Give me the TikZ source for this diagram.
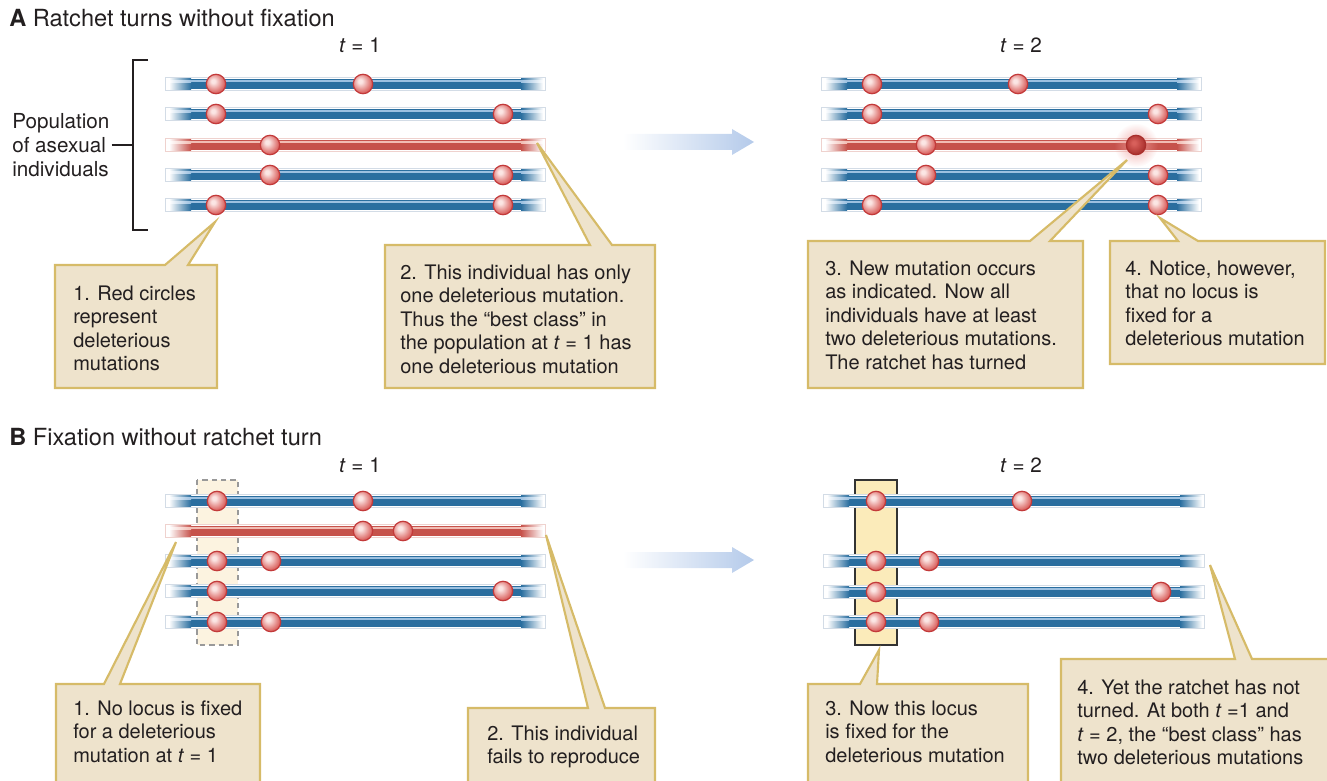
\documentclass[tikz,border=0pt]{standalone}
\usepackage{fontspec}
\setmainfont{TeX Gyre Heros}
\usetikzlibrary{fadings}

\definecolor{txt}{HTML}{231F20}
\definecolor{blubody}{HTML}{2A6E9F}
\definecolor{bluhi}{HTML}{9CC0E0}
\definecolor{bluedge}{HTML}{D3DCE6}
\definecolor{redbody}{HTML}{C6524B}
\definecolor{redhi}{HTML}{F1BDB4}
\definecolor{rededge}{HTML}{EFD2CE}
\definecolor{mutin}{HTML}{FBE6E4}
\definecolor{mutout}{HTML}{DA625F}
\definecolor{mutedge}{HTML}{C33A3A}
\definecolor{dkin}{HTML}{D8605B}
\definecolor{dkout}{HTML}{A92F2C}
\definecolor{glowc}{HTML}{EE9C99}
\definecolor{calfill}{HTML}{EEE3CC}
\definecolor{caledge}{HTML}{D6BB68}
\definecolor{arrowc}{HTML}{B4CAEA}
\definecolor{locusA}{HTML}{FCF3E0}
\definecolor{locusB}{HTML}{FBEBBA}

% shaded bead for a mutation
\pgfdeclareradialshading{mutball}{\pgfqpoint{-8bp}{8bp}}{%
  color(0bp)=(mutin); color(5bp)=(mutin); color(27bp)=(mutout);
  color(40bp)=(mutout!85!black); color(60bp)=(mutout!85!black)}
\pgfdeclareradialshading{darkball}{\pgfqpoint{-6bp}{6bp}}{%
  color(0bp)=(dkin); color(4bp)=(dkin); color(28bp)=(dkout); color(60bp)=(dkout)}
\tikzfading[name=glowfade, inner color=transparent!15, outer color=transparent!100]

% chromosome: #1 = left x, #2 = right x, #3 = y, #4 = colour prefix (blu/red)
\newcommand\chrom[4]{%
  \draw[draw=#4edge, fill=white, line width=0.4pt] (#1,#3-6.5) rectangle (#2,#3+6.5);
  \fill[#4body] (#1+26,#3-5.2) rectangle (#2-24,#3+5.2);
  \shade[left color=white, right color=#4body] (#1+4,#3-5.2) rectangle (#1+26,#3+5.2);
  \shade[left color=#4body, right color=white] (#2-24,#3-5.2) rectangle (#2-2,#3+5.2);
  \fill[#4hi] (#1+26,#3-3.6) rectangle (#2-24,#3-1.6);
  \shade[left color=white, right color=#4hi] (#1+4,#3-3.6) rectangle (#1+26,#3-1.6);
  \shade[left color=#4hi, right color=white] (#2-24,#3-3.6) rectangle (#2-2,#3-1.6);
}
% mutation bead
\newcommand\mut[2]{\shade[shading=mutball, draw=mutedge, line width=0.9pt] (#1,#2) circle[radius=9.7];}
% callout: box #1,#2 to #3,#4; pointer base #5..#6 on top edge; tip #7
\newcommand\callout[7]{%
  \filldraw[callbox] (#1,#2) -- (#5,#2) -- #7 -- (#6,#2) -- (#3,#2) -- (#3,#4) -- (#1,#4) -- cycle;}
% broad progression arrow with its left end at #1,#2
\newcommand\flowarrow[2]{%
  \shade[left color=white, right color=arrowc] (#1,#2-8) -- (#1+109,#2-8) -- (#1+109,#2-13)
    -- (#1+131,#2) -- (#1+109,#2+13) -- (#1+109,#2+8) -- (#1,#2+8) -- cycle;}

\tikzset{
  callbox/.style={fill=calfill, draw=caledge, line width=1.6pt, line join=miter},
  note/.style={font=\fontsize{15}{17.6}\selectfont, align=left, inner sep=0pt,
    anchor=north west, text=txt},
  heading/.style={font=\fontsize{17.7}{20}\selectfont, inner sep=0pt, anchor=west, text=txt},
  timelbl/.style={font=\fontsize{15.5}{18}\selectfont, inner sep=0pt, text=txt},
  poplbl/.style={font=\fontsize{15.5}{18}\selectfont, align=left, inner sep=0pt,
    anchor=west, text=txt},
  brk/.style={draw=txt, line width=0.8pt},
}

\begin{document}
\begin{tikzpicture}[x=0.75pt,y=-0.75pt]
\useasboundingbox (0,0) rectangle (1327,781);

% ---------------- panel A ----------------
\node[heading] (headA) at (9,18) {\textbf{A} Ratchet turns without fixation};
\node[timelbl] (tA1) at (360,45) {\textit{t} = 1};
\node[timelbl] (tA2) at (1021,45) {\textit{t} = 2};

\node[poplbl] (pop) at (12,145) {Population\\of asexual\\individuals};
\coordinate (brkmid) at (133,145);
\draw[brk] (148,60) -- (133,60) -- (133,230) -- (148,230);
\draw[brk] ([xshift=1.5]pop.east |- brkmid) -- (brkmid);

% population at t = 1
\chrom{165}{545}{84}{blu}
\chrom{165}{545}{114}{blu}
\chrom{165}{545}{145}{red}
\chrom{165}{545}{175}{blu}
\chrom{165}{545}{205}{blu}
\mut{216}{84}\mut{363}{84}
\mut{216}{114}\mut{503}{114}
\mut{270}{145}
\mut{270}{175}\mut{503}{175}
\mut{216}{205}\mut{503}{205}

\flowarrow{623}{142}

% population at t = 2
\chrom{821}{1201}{84}{blu}
\chrom{821}{1201}{114}{blu}
\chrom{821}{1201}{145}{red}
\chrom{821}{1201}{175}{blu}
\chrom{821}{1201}{205}{blu}
\mut{872}{84}\mut{1018}{84}
\mut{872}{114}\mut{1158}{114}
\mut{926}{145}
\fill[glowc, path fading=glowfade] (1136,145) circle[radius=22];
\shade[shading=darkball, draw=dkout, line width=0.9pt] (1136,145) circle[radius=9.7];
\mut{926}{175}\mut{1158}{175}
\mut{872}{205}\mut{1158}{205}

\callout{55}{265}{217}{388}{165}{188}{(215,222)}
\node[note] (nA1) at (73,285.5) {1. Red circles\\represent\\deleterious\\mutations};
\callout{385}{245}{655}{388}{590}{612}{(537,143)}
\node[note] (nA2) at (400,264.5) {2. This individual has only\\one deleterious mutation.\\Thus the “best class” in\\the population at \textit{t} = 1 has\\one deleterious mutation};
\callout{808}{241}{1083}{388}{1030}{1050}{(1127,160)}
\node[note] (nA3) at (825,260.5) {3. New mutation occurs\\as indicated. Now all\\individuals have at least\\two deleterious mutations.\\The ratchet has turned};
\callout{1110}{241}{1325}{364}{1178}{1198}{(1160,218)}
\node[note] (nA4) at (1125,260.5) {4. Notice, however,\\that no locus is\\fixed for a\\deleterious mutation};

% ---------------- panel B ----------------
\node[heading] (headB) at (9,437) {\textbf{B} Fixation without ratchet turn};
\node[timelbl] (tB1) at (360,465) {\textit{t} = 1};
\node[timelbl] (tB2) at (1021,465) {\textit{t} = 2};

% shared locus, t = 1
\filldraw[fill=locusA, draw=black!40, line width=0.8pt, dash pattern=on 4pt off 3pt]
  (197,480) rectangle (238,645);
\chrom{165}{545}{501}{blu}
\chrom{165}{545}{531}{red}
\chrom{165}{545}{561}{blu}
\chrom{165}{545}{591}{blu}
\chrom{165}{545}{622}{blu}
\mut{217}{501}\mut{363}{501}
\mut{363}{531}\mut{403}{531}
\mut{217}{561}\mut{271}{561}
\mut{217}{591}\mut{503}{591}
\mut{217}{622}\mut{271}{622}

\flowarrow{623}{560}

% fixed locus, t = 2
\filldraw[fill=locusB, draw=black!80, line width=0.8pt] (855,480) rectangle (897,645);
\chrom{823}{1204}{501}{blu}
\chrom{823}{1204}{561}{blu}
\chrom{823}{1204}{592}{blu}
\chrom{823}{1204}{622}{blu}
\mut{876}{501}\mut{1022}{501}
\mut{876}{561}\mut{929}{561}
\mut{876}{592}\mut{1161}{592}
\mut{876}{622}\mut{929}{622}

\callout{56}{684}{260}{790}{104}{120}{(176,542)}
\node[note] (nB1) at (73,700.5) {1. No locus is fixed\\for a deleterious\\mutation at \textit{t} = 1};
\callout{468}{708}{655}{790}{588}{605}{(546,535)}
\node[note] (nB2) at (487,725.5) {2. This individual\\fails to reproduce};
\callout{808}{684}{1028}{790}{860}{877}{(879,650)}
\node[note] (nB3) at (825,700.5) {3. Now this locus\\is fixed for the\\deleterious mutation};
\callout{1061}{659}{1332}{790}{1235}{1252}{(1210,565)}
\node[note] (nB4) at (1077,679.5) {4. Yet the ratchet has not\\turned. At both \textit{t} =1 and\\\textit{t} = 2, the “best class” has\\two deleterious mutations};
\end{tikzpicture}
\end{document}
